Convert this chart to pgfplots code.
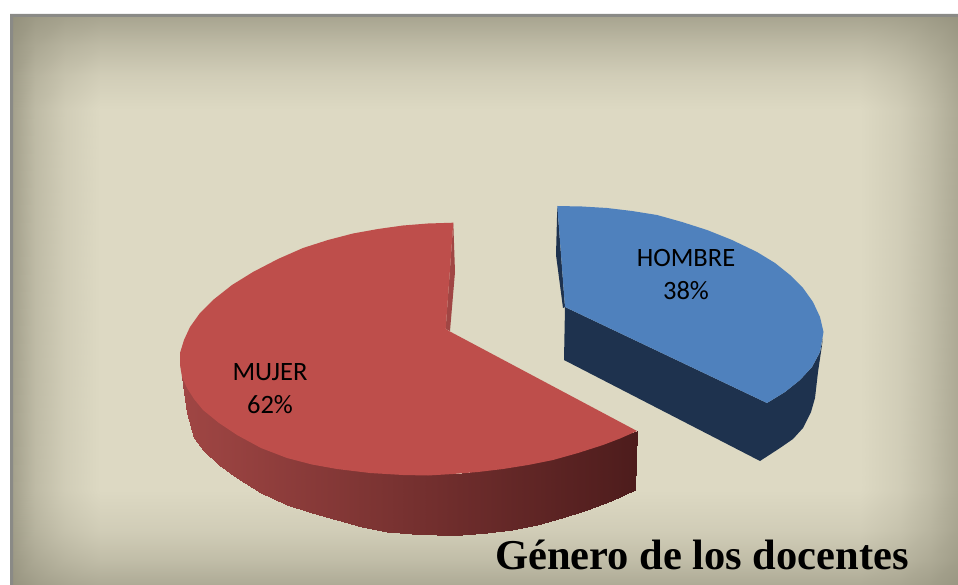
\documentclass[border=0pt]{standalone}
\usepackage{fontspec}
\setmainfont{Liberation Serif}
\newfontfamily\labelfont{Carlito}
\usepackage{pgfplots}
\usepackage{pgfplotstable}
\pgfplotsset{compat=1.18}
\definecolor{bordergray}{RGB}{138,138,134}
\definecolor{redtop}{RGB}{190,78,75}
\definecolor{redwall}{RGB}{160,70,68}
\definecolor{bluetop}{RGB}{79,129,189}
\definecolor{blueside}{RGB}{30,50,78}
\pgfplotsset{
  colormap={bgmap}{rgb255=(140,137,117) rgb255=(221,217,195)},
  colormap={redside}{rgb255=(77,28,28) rgb255=(160,70,68)},
}
\begin{document}
\begin{tikzpicture}
\path[use as bounding box] (0,0) rectangle (958pt,585pt);
\begin{axis}[
  at={(0,0)},anchor=south west,
  scale only axis,width=958pt,height=585pt,
  xmin=0,xmax=958,ymin=0,ymax=585,y dir=reverse,
  hide axis,point meta min=0,point meta max=1,
]
% background with darkened edges
\addplot[surf,shader=interp,colormap name=bgmap,mesh/rows=8,point meta=\thisrow{c}] table {
x y c
13 17 .1
35 17 .22
65 17 .3
100 17 .35
860 17 .35
900 17 .3
930 17 .23
958 17 .14
13 45 .19
35 45 .38
65 45 .53
100 45 .62
860 45 .62
900 45 .53
930 45 .4
958 45 .25
13 75 .26
35 75 .53
65 75 .72
100 75 .85
860 75 .85
900 75 .72
930 75 .55
958 75 .34
13 110 .3
35 110 .62
65 110 .85
100 110 1
860 110 1
900 110 .85
930 110 .65
958 110 .4
13 490 .3
35 490 .62
65 490 .85
100 490 1
860 490 1
900 490 .85
930 490 .65
958 490 .4
13 530 .26
35 530 .53
65 530 .72
100 530 .85
860 530 .85
900 530 .72
930 530 .55
958 530 .34
13 560 .2
35 560 .4
65 560 .55
100 560 .65
860 560 .65
900 560 .55
930 560 .42
958 560 .26
13 585 .13
35 585 .26
65 585 .36
100 585 .42
860 585 .42
900 585 .36
930 585 .27
958 585 .17
};
\addplot[fill=bordergray,draw=none] coordinates {(10,14)(958,14)(958,17)(13,17)(13,585)(10,585)} --cycle;
% MUJER, inner wall
\addplot[fill=redwall,draw=none] coordinates {(453.3,223)(455,272)(450,331)(445.7,329)} --cycle;
% MUJER, outer side
\addplot[surf,shader=interp,colormap name=redside,mesh/rows=2,point meta=\thisrow{c}] table {
x y c
182 377 1
183 379 1
187 386 .99
194 397 .97
203 408 .95
219 421 .92
237 433 .88
261 446 .83
287 456 .77
312 462.5 .71
337 467 .66
362 470 .6
387 472 .55
412 473 .49
437 473.5 .44
462 472.5 .38
487 469.5 .33
512 465.5 .27
537 460.5 .22
562 455 .16
587 448 .11
611 440 .06
637 431 0
182 377 1
183 385 1
187 413 .99
194 438 .97
203 450 .95
219 465 .92
237 478 .88
261 492.5 .83
287 505 .77
312 513 .71
337 520 .66
362 527 .6
387 532 .55
412 534 .49
437 535 .44
462 534.5 .38
487 533 .33
512 529.5 .27
537 525 .22
562 518 .16
587 510 .11
611 501 .06
635 490 0
};
% MUJER, top face
\addplot[fill=redtop,draw=none] coordinates {
(453.3,222.7)(428,223.5)(403,225.5)(378,229)(353,233.5)(328,240)(303,248)(278,259)
(253,272)(232,285)(213,300)(200,313)(190,327)(184,340)(180,353)(180,365)(182,377)
(187,388)(194,399)(203,410)(219,423)(237,435)(261,448)(287,458)(312,464.5)(337,469)
(370,473)(403,475)(428,475.5)(453,474)(478,472)(503,469)(528,465)(553,460)(578,453)
(603,445)(620,438.5)(637,431)(449,331)(445.7,329)} --cycle;
% HOMBRE, side and inner wall
\addplot[fill=blueside,draw=none] coordinates {
(565,307)(767,403)(785,392)(800,380)(812,367)(820,352)(823,338)(822,345)(818,372)
(815,398)(811,412)(803,428)(793,439)(780,448)(760,461)(564,360)} --cycle;
\addplot[fill=blueside,draw=none] coordinates {(557.3,206)(556,255)(563,308)(565,307)} --cycle;
% HOMBRE, top face
\addplot[fill=bluetop,draw=none] coordinates {
(557.3,206)(582,206.5)(607,208)(632,211)(657,215)(682,222)(707,230)(732,240)(757,252)
(775,263)(790,275)(803,288)(813,302)(820,317)(823.5,332)(820,352)(812,367)(800,380)
(785,392)(767,403)(565,307)} --cycle;
\node[font=\labelfont\fontsize{26.5}{33}\selectfont,align=center] at (axis cs:686,274.5) {HOMBRE\\38\%};
\node[font=\labelfont\fontsize{26.5}{33}\selectfont,align=center] at (axis cs:270,388.5) {MUJER\\62\%};
\node[font=\bfseries\fontsize{42.5}{50}\selectfont,anchor=base west,inner sep=0pt] at (axis cs:495,569) {Género de los docentes};
\end{axis}
\end{tikzpicture}
\end{document}
